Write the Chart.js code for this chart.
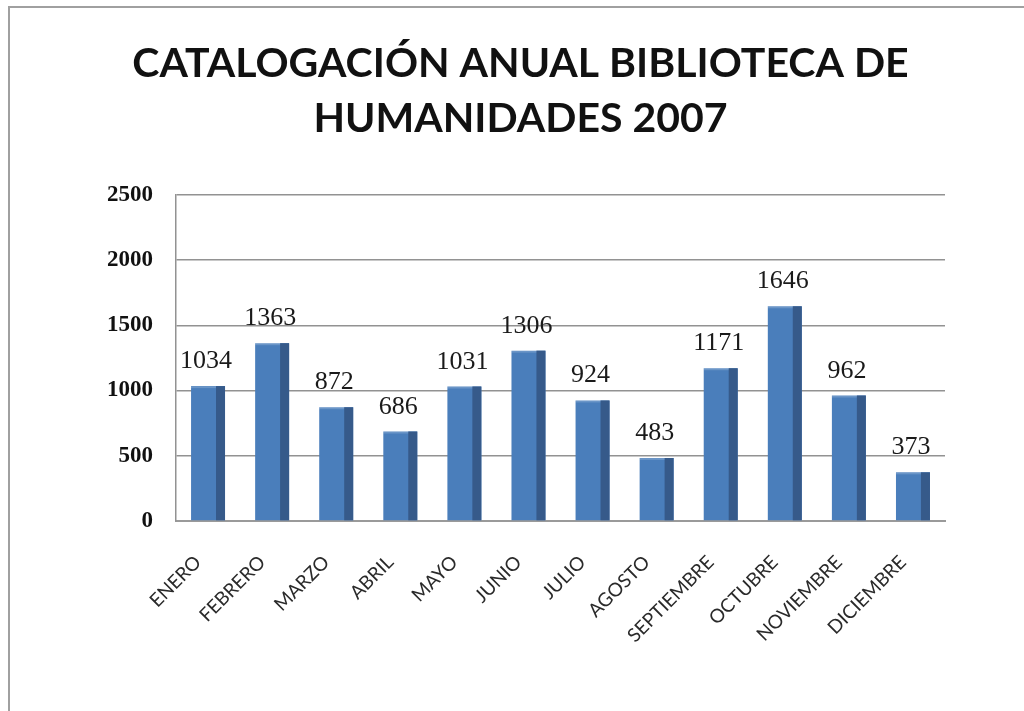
<!DOCTYPE html>
<html>
<head>
<meta charset="utf-8">
<script src="https://cdn.jsdelivr.net/npm/chart.js@4.4.1/dist/chart.umd.min.js"></script>
<style>
  html, body { margin: 0; padding: 0; background: #fff; overflow: hidden; }
  #wrap { position: relative; width: 1024px; height: 711px; }
  #frame {
    position: absolute; left: 8px; top: 6px; width: 1100px; height: 800px;
    border-top: 2px solid #a0a0a0; border-left: 2px solid #a0a0a0;
    pointer-events: none;
  }
  canvas { position: absolute; left: 0; top: 0; }
</style>
</head>
<body>
<div id="wrap">
  <canvas id="chart" width="1024" height="711"></canvas>
  <div id="frame"></div>
</div>
<script>
/* Catalogación anual — Biblioteca de Humanidades 2007 */

const MONTHS = ['ENERO', 'FEBRERO', 'MARZO', 'ABRIL', 'MAYO', 'JUNIO',
                'JULIO', 'AGOSTO', 'SEPTIEMBRE', 'OCTUBRE', 'NOVIEMBRE', 'DICIEMBRE'];
const TOTALS = [1034, 1363, 872, 686, 1031, 1306, 924, 483, 1171, 1646, 962, 373];
const TITLE_LINES = ['CATALOGACIÓN ANUAL BIBLIOTECA DE', 'HUMANIDADES 2007'];
const Y_MAX  = 2500;
const Y_STEP = 500;

const FRONT = '#4a7ebb';
const SIDE  = '#365a8a';
const SIDE_W = 9;

// darker right face on each bar + value label above it
const barDecor = {
  id: 'barDecor',
  afterDatasetsDraw(chart) {
    const ctx  = chart.ctx;
    const meta = chart.getDatasetMeta(0);
    ctx.save();
    meta.data.forEach((bar, i) => {
      const right = bar.x + bar.width / 2;
      const top   = Math.min(bar.y, bar.base);
      const h     = Math.abs(bar.base - bar.y);
      ctx.fillStyle = SIDE;
      ctx.fillRect(right - SIDE_W, top, SIDE_W, h);
      ctx.fillStyle = 'rgba(255,255,255,0.18)';
      ctx.fillRect(bar.x - bar.width / 2, top, bar.width - SIDE_W, 2);

      ctx.fillStyle = '#1a1a1a';
      ctx.font = '26px "Liberation Serif", "DejaVu Serif", serif';
      ctx.textAlign = 'center';
      ctx.textBaseline = 'alphabetic';
      ctx.fillText(String(TOTALS[i]), bar.x - 2, top - 18);
    });
    ctx.restore();
  }
};

new Chart(document.getElementById('chart'), {
  type: 'bar',
  data: {
    labels: MONTHS,
    datasets: [{
      data: TOTALS,
      backgroundColor: FRONT,
      borderWidth: 0,
      categoryPercentage: 1,
      barPercentage: 0.53
    }]
  },
  options: {
    responsive: false,
    animation: false,
    events: [],
    layout: { padding: { left: 96, right: 79, top: 30, bottom: 0 } },
    plugins: {
      legend: { display: false },
      tooltip: { enabled: false },
      title: {
        display: true,
        text: TITLE_LINES,
        color: '#111',
        font: { family: 'Lato', size: 41, weight: 'bold', lineHeight: 1.34 },
        padding: { top: 6, bottom: 49 }
      }
    },
    scales: {
      x: {
        afterFit: s => { s.height = 190; },
        grid: { display: false },
        border: { display: true, color: '#9a9a9a', width: 2 },
        ticks: {
          color: '#2a2a2a',
          font: { family: 'Lato', size: 19 },
          minRotation: 45, maxRotation: 45,
          padding: 22,
          labelOffset: -10,
          autoSkip: false
        }
      },
      y: {
        min: 0, max: Y_MAX,
        afterFit: s => { s.width = 80; },
        grid: { color: '#929292', lineWidth: 1.5, drawTicks: false },
        border: { display: true, color: '#929292', width: 1.5 },
        ticks: {
          stepSize: Y_STEP,
          color: '#111',
          font: { family: '"Liberation Serif", serif', size: 23, weight: 'bold' },
          padding: 23,
          callback: v => String(v)
        }
      }
    }
  },
  plugins: [barDecor]
});
</script>
</body>
</html>
